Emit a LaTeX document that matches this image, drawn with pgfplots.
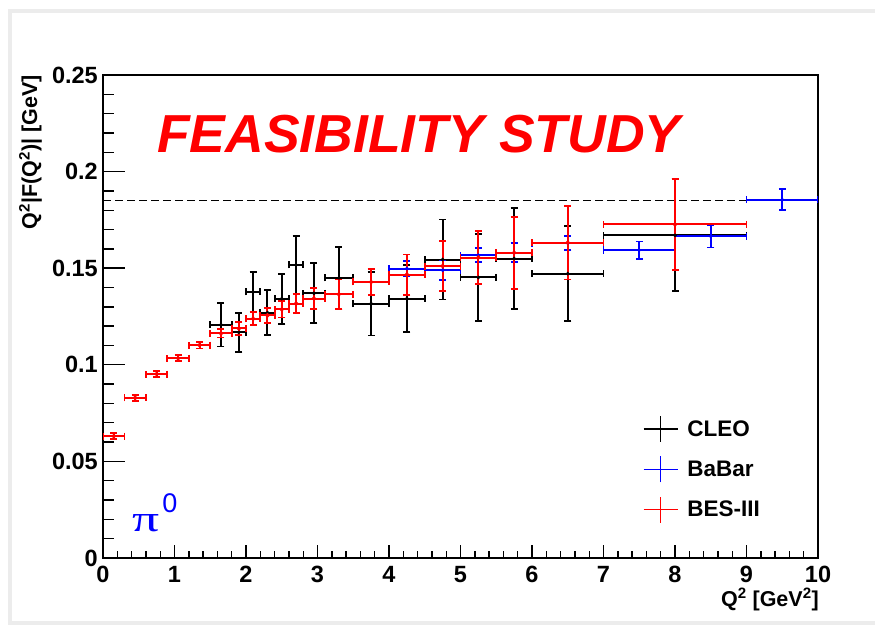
\documentclass[border=0pt]{standalone}
\usepackage{pgfplots}
\pgfplotsset{compat=1.18}
\usepackage{pgfplotstable}
\usepackage{fontspec}
\setmainfont{Liberation Sans}
\newfontfamily\greekfont{Liberation Serif}

\definecolor{rootred}{RGB}{255,0,0}
\definecolor{rootblue}{RGB}{0,0,255}
\definecolor{framegray}{RGB}{236,236,236}

% x = Q^2 bin centre, ex = half bin width, y = Q^2|F(Q^2)|, ey = error
\pgfplotstableread{
x    ex   y      ey
1.65 0.15 0.1208 0.0113
1.90 0.10 0.1168 0.0101
2.10 0.10 0.1377 0.0105
2.30 0.10 0.1270 0.0116
2.50 0.10 0.1342 0.0130
2.70 0.10 0.1517 0.0150
2.95 0.15 0.1370 0.0155
3.30 0.20 0.1450 0.0160
3.75 0.25 0.1317 0.0165
4.25 0.25 0.1343 0.0172
4.75 0.25 0.1545 0.0207
5.25 0.25 0.1452 0.0225
5.75 0.25 0.1550 0.0260
6.50 0.50 0.1472 0.0245
8.00 1.00 0.1670 0.0290
}\cleo

\pgfplotstableread{
x    ex   y      ey
4.25 0.25 0.1498 0.0040
4.75 0.25 0.1490 0.0050
5.25 0.25 0.1567 0.0037
5.75 0.25 0.1580 0.0050
6.50 0.50 0.1630 0.0037
7.50 0.50 0.1593 0.0045
8.50 0.50 0.1665 0.0058
9.50 0.50 0.1855 0.0054
}\babar

\pgfplotstableread{
x    ex   y      ey
0.15 0.15 0.0631 0.0017
0.45 0.15 0.0829 0.0015
0.75 0.15 0.0952 0.0015
1.05 0.15 0.1034 0.0015
1.35 0.15 0.1102 0.0018
1.65 0.15 0.1163 0.0022
1.90 0.10 0.1188 0.0034
2.10 0.10 0.1238 0.0034
2.30 0.10 0.1256 0.0038
2.50 0.10 0.1287 0.0042
2.70 0.10 0.1317 0.0050
2.95 0.15 0.1343 0.0055
3.30 0.20 0.1365 0.0076
3.75 0.25 0.1429 0.0066
4.25 0.25 0.1467 0.0104
4.75 0.25 0.1511 0.0130
5.25 0.25 0.1555 0.0138
5.75 0.25 0.1580 0.0187
6.50 0.50 0.1632 0.0190
8.00 1.00 0.1727 0.0235
}\besiii

\pgfplotsset{
  every error bar/.append style={line width=2bp},
  rootframe/.style={
    at={(103bp,67bp)}, anchor=south west,
    scale only axis, width=715bp, height=483bp,
    xmin=0, xmax=10, ymin=0, ymax=0.25,
    tick pos=left, tick align=inside,
    tick style={black, line width=1.4bp},
  },
  errpts/.style={
    only marks, mark=*, line width=2bp,
    error bars/x dir=both, error bars/x explicit,
    error bars/y dir=both, error bars/y explicit,
    error bars/error bar style={line width=2bp},
    error bars/error mark options={rotate=90, line width=1.8bp, mark size=3.5bp},
  },
}

\begin{document}
\begin{tikzpicture}
\path[use as bounding box] (0bp,0bp) rectangle (875bp,625bp);
\fill[framegray] (8bp,-10bp) rectangle (12bp,616bp);
\fill[framegray] (8bp,612bp) rectangle (890bp,616bp);
\fill[framegray] (8bp,-10bp) rectangle (890bp,4bp);

% y axis, data and legend
\begin{axis}[rootframe,
  xtick=\empty,
  ytick={0,0.05,0.1,0.15,0.2,0.25},
  yticklabels={0,0.05,0.1,0.15,0.2,0.25},
  minor y tick num=4,
  major tick length=22bp, minor tick length=11bp,
  axis line style={line width=1.7bp},
  yticklabel style={font=\bfseries\fontsize{23.5bp}{23.5bp}\selectfont, inner sep=0pt, xshift=-5bp},
  legend style={at={(axis description cs:0.755,0.296)}, anchor=north west,
    draw=none, fill=none, inner sep=0pt, row sep=13bp,
    font=\bfseries\fontsize{22.5bp}{22.5bp}\selectfont,
    /tikz/every odd column/.append style={column sep=7bp}},
  legend cell align=left,
]
\addplot[black, line width=1.8bp, dash pattern=on 8bp off 4bp, forget plot]
  coordinates {(0,0.185) (10,0.185)};

\addplot[black, mark size=0.6bp, forget plot, errpts]
  table[x=x, y=y, x error=ex, y error=ey] {\cleo};
\addplot[rootblue, mark size=0.6bp, forget plot, errpts]
  table[x=x, y=y, x error=ex, y error=ey] {\babar};
\addplot[rootred, mark size=1.1bp, forget plot, errpts]
  table[x=x, y=y, x error=ex, y error=ey] {\besiii};

\addlegendimage{legend image code/.code={
  \draw[black, line width=1.4bp] (0bp,0bp)--(34bp,0bp) (17bp,-13bp)--(17bp,13bp);}}
\addlegendentry{CLEO}
\addlegendimage{legend image code/.code={
  \draw[rootblue, line width=1.4bp] (0bp,0bp)--(34bp,0bp) (17bp,-13bp)--(17bp,13bp);}}
\addlegendentry{BaBar}
\addlegendimage{legend image code/.code={
  \draw[rootred, line width=1.4bp] (0bp,0bp)--(34bp,0bp) (17bp,-13bp)--(17bp,13bp);}}
\addlegendentry{BES-III}
\end{axis}

% x axis ticks
\begin{axis}[rootframe,
  ytick=\empty,
  xtick={0,1,...,10},
  minor x tick num=4,
  major tick length=13bp, minor tick length=6.5bp,
  axis line style={draw=none},
  /pgf/number format/assume math mode=true,
  xticklabel style={font=\bfseries\fontsize{23.5bp}{23.5bp}\selectfont, inner sep=0pt, yshift=-8bp},
]
\end{axis}

\node[anchor=base west, inner sep=0pt, text=rootred,
  font=\bfseries\itshape\fontsize{53.5bp}{53.5bp}\selectfont] at (157bp,472bp) {FEASIBILITY STUDY};
\node[anchor=base west, inner sep=0pt, text=rootblue] at (132bp,93bp)
  {{\greekfont\fontsize{37bp}{37bp}\selectfont\scalebox{1.45}[1]{π}}\kern3bp\raisebox{19bp}{\fontsize{27bp}{27bp}\selectfont 0}};
\node[rotate=90, anchor=base east, inner sep=0pt,
  font=\bfseries\fontsize{21.5bp}{21.5bp}\selectfont] at (37bp,550bp)
  {Q\textsuperscript{2}|F(Q\textsuperscript{2})| [GeV]};
\node[anchor=base east, inner sep=0pt,
  font=\bfseries\fontsize{21.5bp}{21.5bp}\selectfont] at (819bp,19bp)
  {Q\textsuperscript{2} [GeV\textsuperscript{2}]};
\end{tikzpicture}
\end{document}
